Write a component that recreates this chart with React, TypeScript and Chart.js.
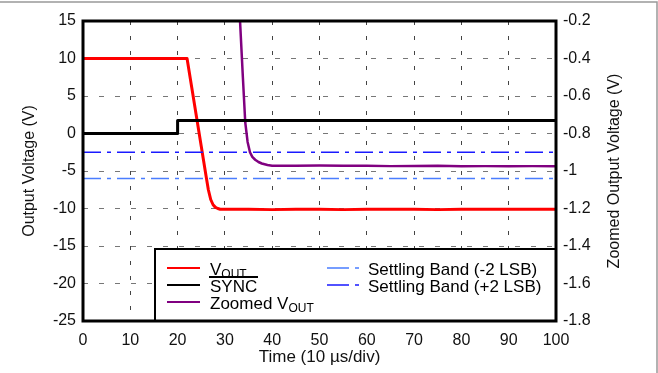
import React, { useEffect, useRef } from 'react';
import { Chart, registerables } from 'chart.js';

Chart.register(...registerables);

// ---- data ----
const voutTime = [0, 22, 23, 24, 25, 26, 26.5, 27, 27.5, 28, 28.5, 29, 30, 35, 40, 45, 50, 55, 60, 65, 70, 75, 80, 85, 90, 95, 100];
const voutValues = [10, 10, 6.1, 2.2, -1.7, -5.6, -7.5, -8.8, -9.5, -9.85, -10.0, -10.1, -10.1, -10.1, -10.15, -10.1, -10.1, -10.15, -10.1, -10.1, -10.1, -10.15, -10.1, -10.1, -10.1, -10.1, -10.1];

const syncTime = [0, 20, 20, 100];
const syncValues = [0, 0, 1.75, 1.75];

const zoomTime = [32.8, 33.2, 33.8, 34.3, 34.8, 35.3, 35.8, 36.4, 37.1, 37.8, 39, 40, 45, 50, 55, 60, 65, 70, 75, 80, 85, 90, 95, 100];
const zoomValues = [0, -0.2, -0.5, -0.74, -0.845, -0.9, -0.925, -0.94, -0.952, -0.96, -0.968, -0.972, -0.972, -0.971, -0.972, -0.972, -0.974, -0.973, -0.972, -0.975, -0.974, -0.975, -0.974, -0.975];

const bandTime = [0, 100];
const bandMinus2 = [-1.04, -1.04];
const bandPlus2 = [-0.9, -0.9];

const xLimits = [0, 100, 10];
const yLimits = [-25, 15, 5];
const y1Limits = [-1.8, -0.2, 0.2];

const FONT = "'Liberation Sans', Arial, sans-serif";

const pts = (xs: number[], ys: number[]) => xs.map((x, i) => ({ x, y: ys[i] }));

const decorPlugin = {
  id: 'decor',
  afterDraw(chart: any) {
    const ctx = chart.ctx;
    const a = chart.chartArea;
    ctx.save();
    // legend box
    const lx = 155, ly = 249;
    ctx.fillStyle = '#fff';
    ctx.fillRect(lx, ly, a.right - lx, a.bottom - ly);
    ctx.strokeStyle = '#000';
    ctx.lineWidth = 2;
    ctx.strokeRect(lx, ly, a.right - lx, a.bottom - ly);

    const drawLine = (x1: number, x2: number, y: number, color: string, dash: number[], w: number) => {
      ctx.save();
      ctx.strokeStyle = color;
      ctx.lineWidth = w;
      ctx.setLineDash(dash);
      ctx.beginPath();
      ctx.moveTo(x1, y);
      ctx.lineTo(x2, y);
      ctx.stroke();
      ctx.restore();
    };
    ctx.fillStyle = '#000';
    ctx.textBaseline = 'alphabetic';
    ctx.textAlign = 'left';
    const big = `17px ${FONT}`;
    const small = `12px ${FONT}`;
    const vout = (x: number, y: number, prefix: string) => {
      ctx.font = big;
      ctx.fillText(prefix + 'V', x, y);
      const w = ctx.measureText(prefix + 'V').width;
      ctx.font = small;
      ctx.fillText('OUT', x + w, y + 3);
    };
    // column 1
    drawLine(167, 200, 268, '#ff0000', [], 2);
    vout(210, 275, '');
    drawLine(167, 200, 285, '#000000', [], 2);
    ctx.font = big;
    ctx.fillText('SYNC', 210, 292);
    ctx.fillRect(209, 276, 49, 2);
    drawLine(167, 200, 302, '#800080', [], 2);
    vout(210, 309, 'Zoomed ');
    // column 2
    drawLine(327, 360, 268, '#4a7dff', [22, 6, 4, 6], 1.5);
    ctx.font = big;
    ctx.fillText('Settling Band (-2 LSB)', 368, 275);
    drawLine(327, 360, 285, '#1a1aff', [22, 6, 4, 6], 1.5);
    ctx.fillText('Settling Band (+2 LSB)', 368, 292);

    // plot frame
    ctx.strokeStyle = '#000';
    ctx.lineWidth = 3;
    ctx.strokeRect(a.left, a.top, a.right - a.left, a.bottom - a.top);

    // axis titles
    ctx.fillStyle = '#111';
    ctx.font = `16px ${FONT}`;
    ctx.textAlign = 'center';
    ctx.textBaseline = 'middle';
    const cy = (a.top + a.bottom) / 2;
    ctx.save();
    ctx.translate(30, cy);
    ctx.rotate(-Math.PI / 2);
    ctx.fillText('Output Voltage (V)', 0, 0);
    ctx.restore();
    ctx.save();
    ctx.translate(615, cy);
    ctx.rotate(-Math.PI / 2);
    ctx.fillText('Zoomed Output Voltage (V)', 0, 0);
    ctx.restore();
    ctx.font = `17px ${FONT}`;
    ctx.fillText('Time (10 \u00B5s/div)', (a.left + a.right) / 2, 357);

    // outer image border
    ctx.strokeStyle = '#999';
    ctx.lineWidth = 1.5;
    ctx.beginPath();
    ctx.moveTo(0, 2);
    ctx.lineTo(657, 2);
    ctx.lineTo(657, 373);
    ctx.stroke();
    ctx.restore();
  },
};

export default function App() {
  const ref = useRef<HTMLCanvasElement | null>(null);
  useEffect(() => {
    if (!ref.current) return;
    const tickFont = { family: FONT, size: 16 };
    const chart = new Chart(ref.current, {
      type: 'line',
      data: {
        datasets: [
          { label: 'Settling Band (-2 LSB)', data: pts(bandTime, bandMinus2), yAxisID: 'y1', borderColor: '#4a7dff', borderWidth: 1.5, borderDash: [18, 6, 4, 6] },
          { label: 'Settling Band (+2 LSB)', data: pts(bandTime, bandPlus2), yAxisID: 'y1', borderColor: '#1a1aff', borderWidth: 1.5, borderDash: [18, 6, 4, 6] },
          { label: 'SYNC', data: pts(syncTime, syncValues), yAxisID: 'y', borderColor: '#000000', borderWidth: 3 },
          { label: 'Zoomed VOUT', data: pts(zoomTime, zoomValues), yAxisID: 'y1', borderColor: '#800080', borderWidth: 2.5 },
          { label: 'VOUT', data: pts(voutTime, voutValues), yAxisID: 'y', borderColor: '#ff0000', borderWidth: 3 },
        ],
      },
      options: {
        responsive: false,
        devicePixelRatio: 1,
        animation: false,
        events: [],
        layout: { padding: { top: 21, left: 0, right: 0, bottom: 0 } },
        elements: { point: { radius: 0 }, line: { tension: 0, borderJoinStyle: 'round', borderCapStyle: 'butt' } },
        plugins: { legend: { display: false }, tooltip: { enabled: false } },
        scales: {
          x: {
            type: 'linear',
            min: xLimits[0], max: xLimits[1],
            ticks: { stepSize: xLimits[2], font: tickFont, color: '#111', padding: 10 },
            grid: { color: '#444', lineWidth: 1, drawTicks: false },
            border: { display: false, dash: [4, 11] },
            afterFit: (s: any) => { s.height = 52; },
          },
          y: {
            type: 'linear', position: 'left',
            min: yLimits[0], max: yLimits[1],
            ticks: { stepSize: yLimits[2], font: tickFont, color: '#111', padding: 7, callback: (v: any) => String(v) },
            grid: { color: '#777', lineWidth: 1, drawTicks: false },
            border: { display: false, dash: [5, 11] },
            afterFit: (s: any) => { s.width = 83; },
          },
          y1: {
            type: 'linear', position: 'right',
            min: y1Limits[0], max: y1Limits[1],
            ticks: { stepSize: y1Limits[2], font: tickFont, color: '#111', padding: 7, callback: (v: any) => String(+Number(v).toFixed(1)) },
            grid: { display: false, drawTicks: false },
            border: { display: false },
            afterFit: (s: any) => { s.width = 102; },
          },
        },
      },
      plugins: [decorPlugin],
    } as any);
    return () => chart.destroy();
  }, []);
  return (
    <div style={{ position: 'absolute', left: 0, top: 0, width: 658, height: 373, background: '#fff' }}>
      <canvas ref={ref} width={658} height={373} style={{ display: 'block' }} />
    </div>
  );
}
